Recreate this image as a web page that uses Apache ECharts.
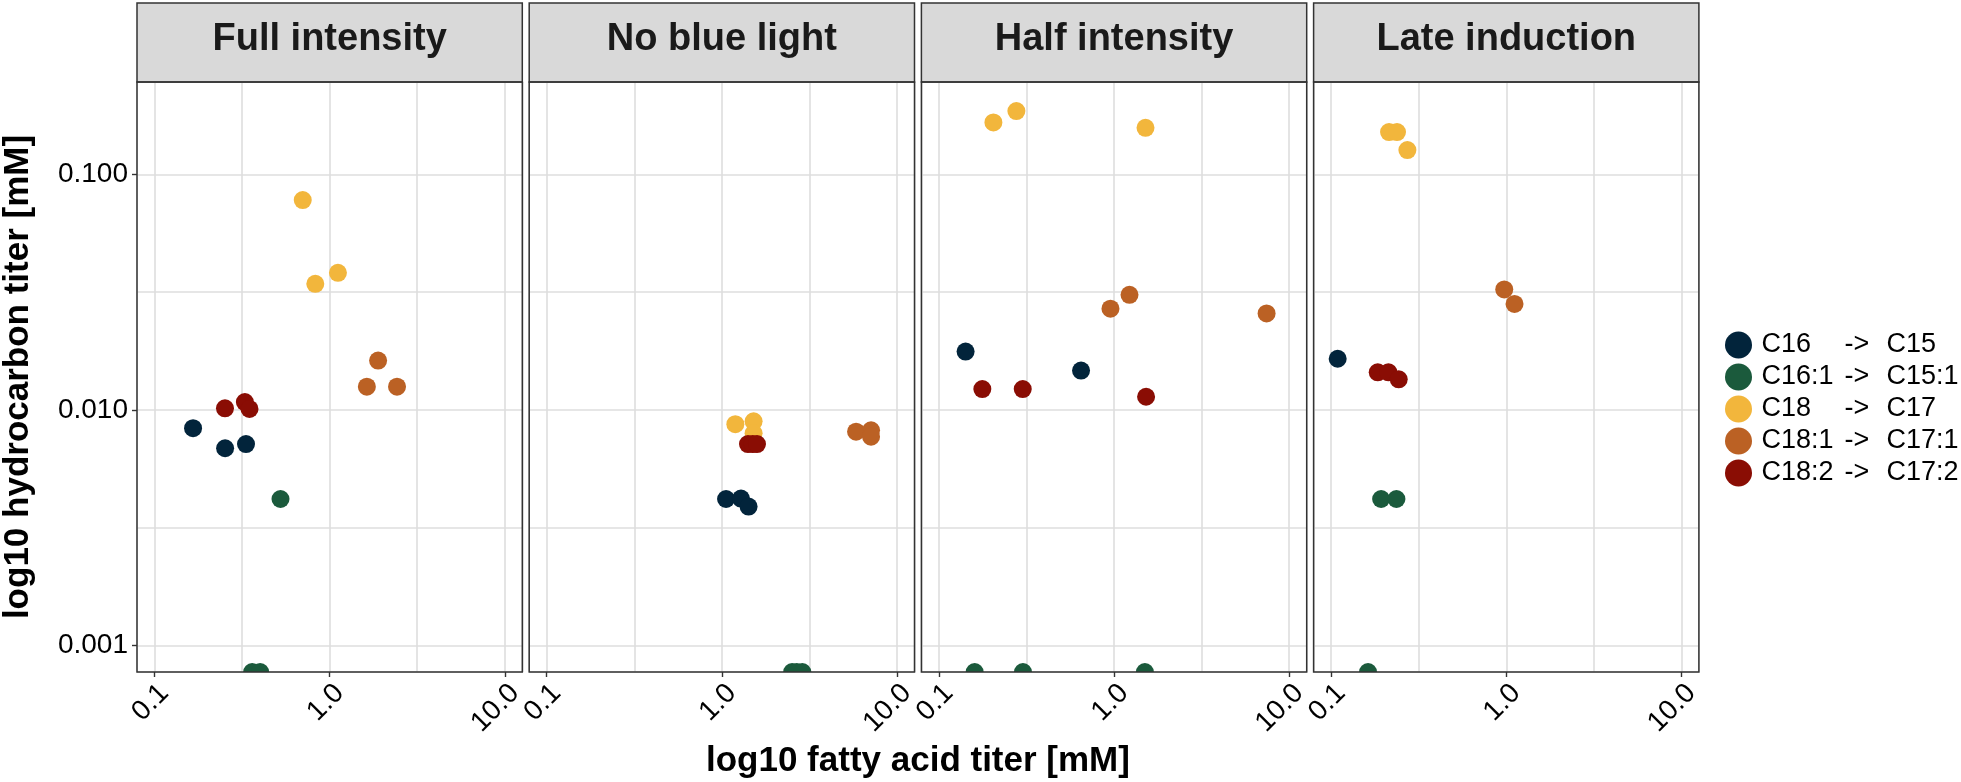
<!DOCTYPE html>
<html>
<head>
<meta charset="utf-8">
<script src="https://cdn.jsdelivr.net/npm/echarts@6/dist/echarts.min.js"></script>
<style>
html,body{margin:0;padding:0;background:#ffffff;}
#chart{width:1961px;height:782px;}
</style>
</head>
<body>
<div id="chart"></div>
<script>
// ---------------- data ----------------
const PANELS = ['Full intensity', 'No blue light', 'Half intensity', 'Late induction'];
const GROUPS = ['C16 -> C15', 'C16:1 -> C15:1', 'C18 -> C17', 'C18:1 -> C17:1', 'C18:2 -> C17:2'];
const X_TICKS = [0.1, 1, 10];
const X_TICK_LABELS = ['0.1', '1.0', '10.0'];
const Y_TICKS = [0.001, 0.01, 0.1];
const Y_TICK_LABELS = ['0.001', '0.010', '0.100'];

// fatty acid titer [mM] (x) and hydrocarbon titer [mM] (y), one inner array per panel
// a hydrocarbon value of 0 = not detected (drawn at the panel floor, like ggplot's -Inf)
const C16_fa   = [[0.166, 0.253, 0.333], [1.057, 1.286, 1.421], [0.142, 0.648], [0.109]];
const C16_hc   = [[0.00837, 0.00688, 0.00717], [0.00419, 0.00421, 0.00389], [0.0177, 0.0147], [0.0165]];
const C16_1_fa = [[0.524, 0.361, 0.401], [2.52, 2.68, 2.88], [0.160, 0.302, 1.50], [0.193, 0.236, 0.1625]];
const C16_1_hc = [[0.00419, 0, 0], [0, 0, 0], [0, 0, 0], [0.00419, 0.00419, 0]];
const C18_fa   = [[0.702, 1.115, 0.828], [1.194, 1.518, 1.518], [0.2047, 0.2769, 1.512], [0.2142, 0.2378, 0.2726]];
const C18_hc   = [[0.0778, 0.0382, 0.0343], [0.0087, 0.00895, 0.00796], [0.1662, 0.1856, 0.1576], [0.1512, 0.1512, 0.1268]];
const C18_1_fa = [[1.891, 1.631, 2.425], [5.84, 7.11, 7.11], [0.954, 1.225, 7.43], [0.974, 1.115]];
const C18_1_hc = [[0.0162, 0.01256, 0.01256], [0.00809, 0.0082, 0.0077], [0.0269, 0.0308, 0.0257], [0.0325, 0.0282]];
const C18_2_fa = [[0.2526, 0.328, 0.3486], [1.41, 1.50, 1.587], [0.177, 0.301, 1.524], [0.1846, 0.2125, 0.2432]];
const C18_2_hc = [[0.01017, 0.0108, 0.0101], [0.00717, 0.00717, 0.00717], [0.01227, 0.01227, 0.01138], [0.01445, 0.01445, 0.0135]];

const GROUP_FA = [C16_fa, C16_1_fa, C18_fa, C18_1_fa, C18_2_fa];
const GROUP_HC = [C16_hc, C16_1_hc, C18_hc, C18_1_hc, C18_2_hc];

// ---------------- style / layout ----------------
const COLORS = ['#02243b', '#1b5a3c', '#f2b63c', '#bb6124', '#8a0d04'];
const FONT = '"Liberation Sans", Arial, Helvetica, sans-serif';
const X_MIN = Math.pow(10, -1.1), X_MAX = Math.pow(10, 1.1);
const Y_MIN = Math.pow(10, -3.112), Y_MAX = Math.pow(10, -0.608);

const PANEL_LEFT0 = 137, PANEL_PITCH = 392.2, PANEL_W = 385.3;
const PANEL_TOP = 82, PANEL_H = 590, STRIP_TOP = 3;
const GRID_COLOR = '#dedede', BORDER_COLOR = '#333333';

function labelFormatter(ticks, labels) {
  return function (v) {
    for (let j = 0; j < ticks.length; j++) {
      if (Math.abs(Math.log10(v) - Math.log10(ticks[j])) < 1e-6) return labels[j];
    }
    return '';
  };
}

const grids = [], xAxes = [], yAxes = [], series = [], graphics = [];

PANELS.forEach(function (name, i) {
  const left = PANEL_LEFT0 + i * PANEL_PITCH;
  grids.push({left: left, top: PANEL_TOP, width: PANEL_W, height: PANEL_H,
              show: false, containLabel: false, outerBoundsMode: 'none'});
  // decade axis: ticks + labels
  xAxes.push({
    type: 'log', logBase: 10, gridIndex: i, min: X_MIN, max: X_MAX,
    axisLine: {show: false},
    axisTick: {show: true, length: 5, customValues: X_TICKS,
               lineStyle: {color: BORDER_COLOR, width: 1.4}},
    axisLabel: {show: true, customValues: X_TICKS, rotate: 45, align: 'right', verticalAlign: 'top',
                margin: 7, fontSize: 28, fontFamily: FONT, color: '#000',
                formatter: labelFormatter(X_TICKS, X_TICK_LABELS), hideOverlap: false},
    splitLine: {show: false}
  });
  // half-decade axis: grid lines only
  xAxes.push({
    type: 'log', logBase: Math.sqrt(10), gridIndex: i, min: X_MIN, max: X_MAX,
    axisLine: {show: false}, axisTick: {show: false}, axisLabel: {show: false},
    splitLine: {show: true, lineStyle: {color: GRID_COLOR, width: 1.6}}
  });
  yAxes.push({
    type: 'log', logBase: 10, gridIndex: i, min: Y_MIN, max: Y_MAX,
    axisLine: {show: false},
    axisTick: {show: i === 0, length: 5, customValues: Y_TICKS,
               lineStyle: {color: BORDER_COLOR, width: 1.4}},
    axisLabel: {show: i === 0, customValues: Y_TICKS, margin: 9, fontSize: 28, fontFamily: FONT,
                color: '#000', formatter: labelFormatter(Y_TICKS, Y_TICK_LABELS), hideOverlap: false},
    splitLine: {show: false}
  });
  yAxes.push({
    type: 'log', logBase: Math.sqrt(10), gridIndex: i, min: Y_MIN, max: Y_MAX,
    axisLine: {show: false}, axisTick: {show: false}, axisLabel: {show: false},
    splitLine: {show: true, lineStyle: {color: GRID_COLOR, width: 1.6}}
  });

  GROUPS.forEach(function (g, k) {
    const fa = GROUP_FA[k][i], hc = GROUP_HC[k][i];
    const data = fa.map(function (x, j) { return [x, hc[j] > 0 ? hc[j] : Y_MIN]; });
    series.push({
      type: 'custom', name: g, xAxisIndex: 2 * i, yAxisIndex: 2 * i,
      coordinateSystem: 'cartesian2d', clip: true, z: 5,
      itemStyle: {color: COLORS[k]},
      data: data,
      renderItem: function (params, api) {
        const p = api.coord([api.value(0), api.value(1)]);
        return {type: 'circle', shape: {cx: p[0], cy: p[1], r: 9},
                style: {fill: COLORS[k]}};
      }
    });
  });

  // strip
  graphics.push({type: 'rect', z: 50,
    shape: {x: left, y: STRIP_TOP, width: PANEL_W, height: PANEL_TOP - STRIP_TOP},
    style: {fill: '#d9d9d9', stroke: BORDER_COLOR, lineWidth: 1.5}});
  graphics.push({type: 'text', z: 51, x: left + PANEL_W / 2, y: 40,
    style: {text: name, font: 'bold 38px ' + FONT, fill: '#1a1a1a',
            textAlign: 'center', textVerticalAlign: 'middle'}});
  // panel border
  graphics.push({type: 'rect', z: 100,
    shape: {x: left, y: PANEL_TOP, width: PANEL_W, height: PANEL_H},
    style: {fill: 'none', stroke: BORDER_COLOR, lineWidth: 1.5}});
});

const plotLeft = PANEL_LEFT0, plotRight = PANEL_LEFT0 + 3 * PANEL_PITCH + PANEL_W;
graphics.push({type: 'text', z: 60, x: (plotLeft + plotRight) / 2, y: 761,
  style: {text: 'log10 fatty acid titer [mM]', font: 'bold 35px ' + FONT, fill: '#000',
          textAlign: 'center', textVerticalAlign: 'middle'}});
graphics.push({type: 'text', z: 60, x: 18, y: PANEL_TOP + PANEL_H / 2,
  rotation: Math.PI / 2,
  style: {text: 'log10 hydrocarbon titer [mM]', font: 'bold 35px ' + FONT, fill: '#000',
          textAlign: 'center', textVerticalAlign: 'middle'}});

const chart = echarts.init(document.getElementById('chart'), null, {renderer: 'canvas'});
chart.setOption({
  animation: false,
  backgroundColor: '#ffffff',
  textStyle: {fontFamily: FONT},
  grid: grids,
  xAxis: xAxes,
  yAxis: yAxes,
  legend: {
    orient: 'vertical', left: 1720, top: 326.5,
    itemWidth: 36, itemHeight: 27, itemGap: 5, icon: 'circle',
    data: GROUPS,
    formatter: function (name) {
      const parts = name.split(' -> ');
      return '{a|' + parts[0] + '}{b|->}{c|' + parts[1] + '}';
    },
    textStyle: {
      fontSize: 27, color: '#000', fontFamily: FONT,
      rich: {
        a: {fontSize: 27, fontFamily: FONT, color: '#000', width: 83},
        b: {fontSize: 27, fontFamily: FONT, color: '#000', width: 42},
        c: {fontSize: 27, fontFamily: FONT, color: '#000'}
      }
    }
  },
  series: series,
  graphic: graphics
});
</script>
</body>
</html>
